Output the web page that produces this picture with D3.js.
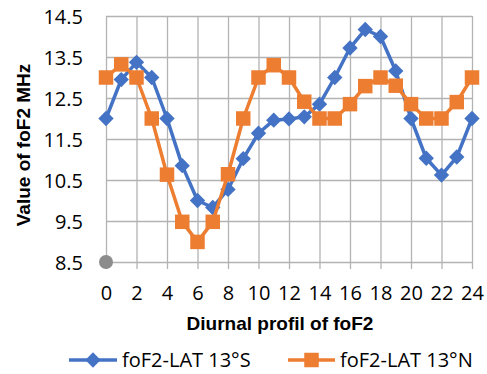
<!DOCTYPE html>
<html>
<head>
<meta charset="utf-8">
<script src="https://cdn.jsdelivr.net/npm/d3@7"></script>
<style>
  html, body { margin: 0; padding: 0; background: #fff; }
  svg { display: block; }
</style>
</head>
<body>
<svg id="chart" width="487" height="374"></svg>
<script>
const hours = d3.range(0, 25);
const seriesNames = ["foF2-LAT 13°S", "foF2-LAT 13°N"];
const southValues = [12.0, 12.95, 13.37, 13.0, 12.0, 10.85, 10.0, 9.83, 10.27, 11.02, 11.64, 11.96, 11.99, 12.04, 12.35, 13.0, 13.72, 14.17, 14.0, 13.16, 12.0, 11.03, 10.62, 11.06, 12.0];
const northValues = [13.0, 13.32, 13.0, 12.0, 10.63, 9.48, 8.99, 9.48, 10.64, 12.0, 13.0, 13.3, 13.0, 12.41, 12.0, 12.0, 12.35, 12.79, 13.0, 12.8, 12.35, 12.0, 12.0, 12.4, 13.0];
const originPoint = [{x: 0, y: 8.5}];
const xTicks = d3.range(0, 25, 2);
const yTicks = [8.5, 9.5, 10.5, 11.5, 12.5, 13.5, 14.5];
const xTitle = "Diurnal profil of foF2";
const yTitle = "Value of foF2 MHz";
const colors = ["#4472C4", "#ED7D31"];

const svg = d3.select("#chart");
const x = d3.scaleLinear().domain([0, 24]).range([106, 472]);
const y = d3.scaleLinear().domain([8.5, 14.5]).range([262, 16]);
const gridColor = "#b3b3b3";
const tickFont = "'Open Sans', sans-serif";

// Horizontal gridlines + y labels
const yAxis = d3.axisLeft(y).tickValues(yTicks).tickFormat(d3.format(".1f"))
  .tickSize(-(x.range()[1] - x.range()[0])).tickPadding(23);
const gy = svg.append("g").attr("transform", `translate(${x(0)},0)`).call(yAxis);
gy.select(".domain").remove();
gy.selectAll(".tick line").attr("stroke", gridColor).attr("stroke-width", 1.3);
gy.selectAll(".tick text").attr("font-family", tickFont).attr("font-size", 20)
  .attr("fill", "#000").attr("dy", "0.36em");

// Vertical gridlines + x labels
const xAxis = d3.axisBottom(x).tickValues(xTicks).tickFormat(d3.format("d"))
  .tickSize(0).tickPadding(0);
const gx = svg.append("g").attr("transform", `translate(0,${y(8.5)})`).call(xAxis);
gx.select(".domain").remove();
gx.selectAll(".tick line").remove();
gx.selectAll(".tick").append("line")
  .attr("y1", -(y(8.5) - y(14.5))).attr("y2", 7)
  .attr("stroke", gridColor).attr("stroke-width", 1.3);
gx.selectAll(".tick text").attr("font-family", tickFont).attr("font-size", 20)
  .attr("fill", "#000").attr("y", 31).attr("dy", "0.36em");

// Lines
const line = d3.line().x((d, i) => x(hours[i])).y(d => y(d));
const symDiamond = d3.symbol().type(d3.symbolDiamond2).size(150);
const symSquare = d3.symbol().type(d3.symbolSquare).size(210);

[southValues, northValues].forEach((vals, si) => {
  svg.append("path").datum(vals).attr("d", line)
    .attr("fill", "none").attr("stroke", colors[si]).attr("stroke-width", 3.5)
    .attr("stroke-linejoin", "round");
  svg.append("g").selectAll("path").data(vals).join("path")
    .attr("transform", (d, i) => `translate(${x(hours[i])},${y(d)})`)
    .attr("d", si === 0 ? symDiamond() : symSquare())
    .attr("fill", colors[si]);
});

// Gray origin point
svg.append("g").selectAll("circle").data(originPoint).join("circle")
  .attr("cx", d => x(d.x)).attr("cy", d => y(d.y)).attr("r", 7)
  .attr("fill", "#8c8c8c");

// Axis titles
svg.append("text").attr("x", 280).attr("y", 323).attr("dy", "0.35em")
  .attr("text-anchor", "middle").attr("font-family", "'Liberation Sans', Arial, sans-serif")
  .attr("font-weight", "bold").attr("font-size", 19).text(xTitle);
svg.append("text").attr("transform", "translate(23,145) rotate(-90)").attr("dy", "0.35em")
  .attr("text-anchor", "middle").attr("font-family", "'Liberation Sans', Arial, sans-serif")
  .attr("font-weight", "bold").attr("font-size", 19).text(yTitle);

// Legend
const legendItems = [
  {x1: 69, x2: 117, tx: 122, sym: symDiamond},
  {x1: 288, x2: 335, tx: 340, sym: symSquare}
];
const ly = 360;
legendItems.forEach((it, i) => {
  const g = svg.append("g");
  g.append("line").attr("x1", it.x1).attr("x2", it.x2).attr("y1", ly).attr("y2", ly)
    .attr("stroke", colors[i]).attr("stroke-width", 3.5);
  g.append("path").attr("transform", `translate(${(it.x1 + it.x2) / 2},${ly})`)
    .attr("d", it.sym()).attr("fill", colors[i]);
  g.append("text").attr("x", it.tx).attr("y", ly).attr("dy", "0.36em")
    .attr("font-family", tickFont).attr("font-size", 20).text(seriesNames[i]);
});
</script>
</body>
</html>
